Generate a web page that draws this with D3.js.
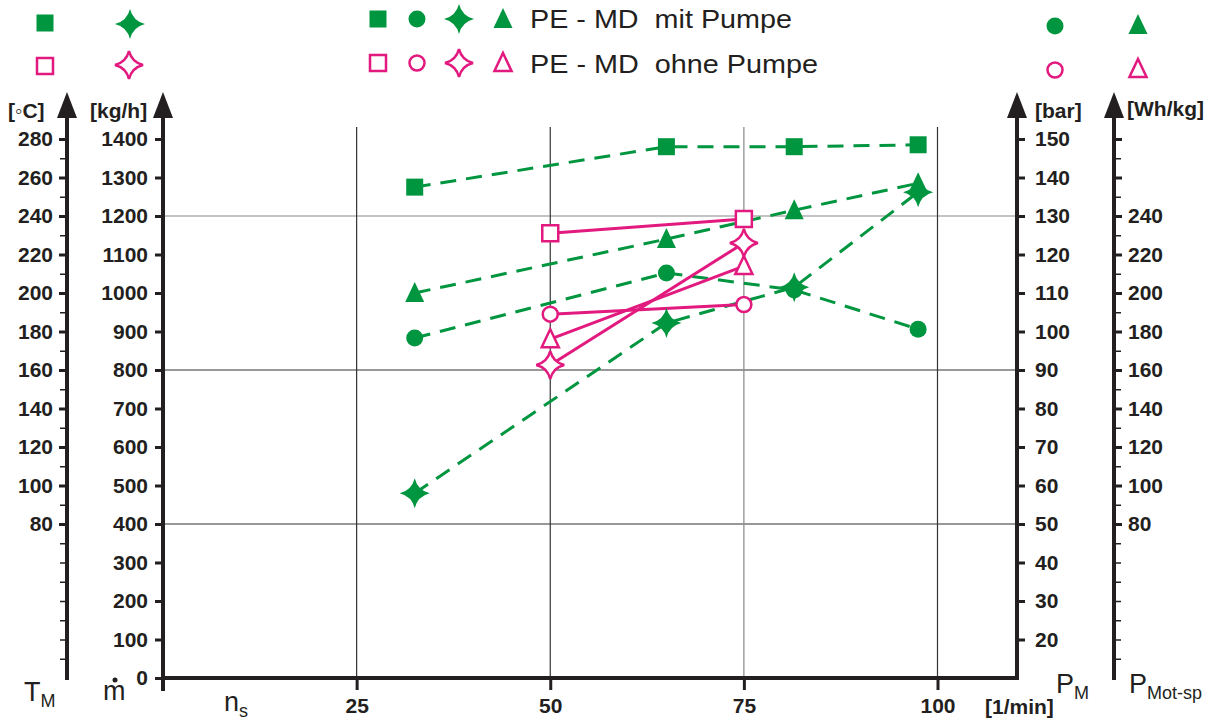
<!DOCTYPE html>
<html>
<head>
<meta charset="utf-8">
<script src="https://cdn.jsdelivr.net/npm/d3@7"></script>
<style>
  body { margin: 0; background: #fff; }
  svg { font-family: "Liberation Sans", Arial, sans-serif; }
  .tick text { font-weight: bold; font-size: 21px; fill: #231f20; }
</style>
</head>
<body>
<svg id="chart" width="1216" height="720"></svg>
<script>
// speed values (n_s, 1/min)
var nMit = [32.5, 65, 81.5, 97.5];
var nOhne = [50, 75];
// T_M [°C]
var tMit = [255, 276, 276, 277];
var tOhne = [231, 238.5];
// mass flow [kg/h]
var mMit = [480, 922, 1015, 1262];
var mOhne = [813, 1130];
// pressure P_M [bar]
var pMit = [98.3, 115.2, 110.8, 100.6];
var pOhne = [104.5, 107];
// specific motor power [Wh/kg]
var wMit = [200, 228, 243, 257];
var wOhne = [176, 214];

var xTicks = [25, 50, 75, 100];
var gridM = [400, 800, 1200];

var green = '#00953f', pink = '#e2197e', ink = '#231f20';

var svg = d3.select('#chart');

// Scales
var x = d3.scaleLinear().domain([0, 100]).range([163, 937.5]);
var yM = d3.scaleLinear().domain([0, 1400]).range([678, 139]);
var yT = d3.scaleLinear().domain([0, 280]).range([678, 139]);
var yP = d3.scaleLinear().domain([10, 150]).range([678, 139]);
var yW = yT;

// Grid lines
svg.append('g').selectAll('line')
  .data(gridM).enter().append('line')
  .attr('x1', 163).attr('x2', 1017)
  .attr('y1', function(d) { return yM(d); }).attr('y2', function(d) { return yM(d); })
  .attr('stroke', function(d, i) { return i == 2 ? '#888' : '#333'; })
  .attr('stroke-width', 1.2);
svg.append('g').selectAll('line')
  .data(xTicks).enter().append('line')
  .attr('x1', function(d) { return x(d); }).attr('x2', function(d) { return x(d); })
  .attr('y1', 127).attr('y2', 678)
  .attr('stroke', function(d, i) { return i == 2 ? '#888' : '#333'; })
  .attr('stroke-width', 1.2);

// star symbol (4 points)
function starPath(r) {
  var k = r * 0.2;
  return 'M0,' + (-r) + 'Q' + k + ',' + (-k) + ' ' + r + ',0' +
    'Q' + k + ',' + k + ' 0,' + r +
    'Q' + (-k) + ',' + k + ' ' + (-r) + ',0' +
    'Q' + (-k) + ',' + (-k) + ' 0,' + (-r) + 'Z';
}
function markerPath(type, open) {
  if (type == 'square') { var s = open ? 8 : 8.5; return 'M' + (-s) + ',' + (-s) + 'H' + s + 'V' + s + 'H' + (-s) + 'Z'; }
  if (type == 'circle') { var r = open ? 7.5 : 8.5; return d3.arc()({innerRadius: 0, outerRadius: r, startAngle: 0, endAngle: 2 * Math.PI}); }
  if (type == 'triangle') { var h = open ? 9 : 10; return 'M0,' + (-h - 1) + 'L' + (h * 0.95) + ',' + (h - 1) + 'L' + (-h * 0.95) + ',' + (h - 1) + 'Z'; }
  return starPath(open ? 14 : 15);
}
function drawMarker(g, type, open, cx, cy) {
  g.append('path')
    .attr('d', markerPath(type, open))
    .attr('transform', 'translate(' + cx + ',' + cy + ')')
    .attr('fill', open ? '#fff' : green)
    .attr('stroke', open ? pink : 'none')
    .attr('stroke-width', open ? 2.5 : 0);
}

// Series
var series = [
  {n: nMit, v: tMit, y: yT, type: 'square', open: false},
  {n: nMit, v: wMit, y: yW, type: 'triangle', open: false},
  {n: nMit, v: pMit, y: yP, type: 'circle', open: false},
  {n: nMit, v: mMit, y: yM, type: 'star', open: false},
  {n: nOhne, v: tOhne, y: yT, type: 'square', open: true},
  {n: nOhne, v: wOhne, y: yW, type: 'triangle', open: true},
  {n: nOhne, v: pOhne, y: yP, type: 'circle', open: true},
  {n: nOhne, v: mOhne, y: yM, type: 'star', open: true}
];
var lineG = svg.append('g');
var markG = svg.append('g');
series.forEach(function(s) {
  var pts = s.n.map(function(n, i) { return [x(n), s.y(s.v[i])]; });
  lineG.append('path')
    .attr('d', d3.line()(pts))
    .attr('fill', 'none')
    .attr('stroke', s.open ? pink : green)
    .attr('stroke-width', 3)
    .attr('stroke-dasharray', s.open ? null : '16,10');
});
series.forEach(function(s) {
  s.n.forEach(function(n, i) { drawMarker(markG, s.type, s.open, x(n), s.y(s.v[i])); });
});

// Axes
function styleAxis(g) {
  g.select('.domain').remove();
  g.selectAll('.tick line').attr('stroke', ink).attr('stroke-width', 3);
}
function minorAxis(g) {
  g.select('.domain').remove();
  g.selectAll('.tick line').attr('stroke', ink).attr('stroke-width', 1.5);
}
function vLine(xp, y2) {
  svg.append('line').attr('x1', xp).attr('x2', xp).attr('y1', 110).attr('y2', y2)
    .attr('stroke', ink).attr('stroke-width', 4);
  svg.append('path').attr('d', 'M' + xp + ',92L' + (xp + 10) + ',118L' + (xp - 10) + ',118Z').attr('fill', ink);
}

// T_M
svg.append('g').attr('transform', 'translate(67,0)')
  .call(d3.axisLeft(yT).tickValues(d3.range(10, 281, 10)).tickSize(7).tickFormat(''))
  .call(minorAxis);
svg.append('g').attr('transform', 'translate(67,0)')
  .call(d3.axisLeft(yT).tickValues(d3.range(80, 281, 20)).tickSize(8).tickPadding(6).tickFormat(d3.format('d')))
  .call(styleAxis);
vLine(67, 680);

// m-dot
svg.append('g').attr('transform', 'translate(163,0)')
  .call(d3.axisLeft(yM).tickValues(d3.range(0, 1401, 100)).tickSize(8).tickPadding(7).tickFormat(d3.format('d')))
  .call(styleAxis);
vLine(163, 691);

// P_M
svg.append('g').attr('transform', 'translate(1017,0)')
  .call(d3.axisRight(yP).tickValues(d3.range(20, 151, 10)).tickSize(8).tickPadding(10).tickFormat(d3.format('d')))
  .call(styleAxis);
vLine(1017, 680);

// P_Mot-sp
svg.append('g').attr('transform', 'translate(1114,0)')
  .call(d3.axisRight(yW).tickValues(d3.range(10, 281, 10)).tickSize(7).tickFormat(''))
  .call(minorAxis);
svg.append('g').attr('transform', 'translate(1114,0)')
  .call(d3.axisRight(yW).tickValues(d3.range(80, 281, 20)).tickSize(8).tickPadding(6)
    .tickFormat(function(d) { return d <= 240 ? d : ''; }))
  .call(styleAxis);
vLine(1114, 680);

// x axis
svg.append('g').attr('transform', 'translate(0,678)')
  .call(d3.axisBottom(x).tickValues(xTicks).tickSize(12).tickPadding(8).tickFormat(d3.format('d')))
  .call(styleAxis);
svg.append('line').attr('x1', 161).attr('x2', 1019).attr('y1', 678).attr('y2', 678)
  .attr('stroke', ink).attr('stroke-width', 4);

// unit labels
var units = [['[\u25e6C]', 8, 118], ['[kg/h]', 90, 118], ['[bar]', 1035, 118], ['[Wh/kg]', 1127, 116], ['[1/min]', 985, 714]];
svg.append('g').selectAll('text').data(units).enter().append('text')
  .attr('x', function(d) { return d[1]; }).attr('y', function(d) { return d[2]; })
  .attr('font-weight', 'bold').attr('font-size', 21).attr('fill', ink)
  .text(function(d) { return d[0]; });

// axis names
function subLabel(xp, yp, main, sub) {
  var t = svg.append('text').attr('x', xp).attr('y', yp).attr('font-size', 27).attr('fill', ink);
  t.append('tspan').text(main);
  t.append('tspan').attr('font-size', 18).attr('dy', 6).text(sub);
}
subLabel(24, 701, 'T', 'M');
subLabel(224, 711, 'n', 's');
subLabel(1056, 693, 'P', 'M');
subLabel(1129, 693, 'P', 'Mot-sp');
svg.append('text').attr('x', 103).attr('y', 700).attr('font-size', 27).attr('fill', ink).text('m');
svg.append('circle').attr('cx', 115).attr('cy', 680).attr('r', 2.5).attr('fill', ink);

// Legend
var legG = svg.append('g');
['square', 'circle', 'star', 'triangle'].forEach(function(t, i) {
  var lx = [378, 417, 459, 503][i];
  drawMarker(legG, t, false, lx, 19);
  drawMarker(legG, t, true, lx, 63);
});
legG.append('text').attr('x', 530).attr('y', 28).attr('font-size', 26).attr('fill', ink)
  .attr('xml:space', 'preserve').attr('textLength', 262).attr('lengthAdjust', 'spacingAndGlyphs')
  .text('PE - MD  mit Pumpe');
legG.append('text').attr('x', 530).attr('y', 73).attr('font-size', 26).attr('fill', ink)
  .attr('xml:space', 'preserve').attr('textLength', 288).attr('lengthAdjust', 'spacingAndGlyphs')
  .text('PE - MD  ohne Pumpe');
drawMarker(legG, 'square', false, 45, 23);
drawMarker(legG, 'star', false, 130, 24);
drawMarker(legG, 'square', true, 45, 66);
drawMarker(legG, 'star', true, 129, 65);
drawMarker(legG, 'circle', false, 1055, 26);
drawMarker(legG, 'triangle', false, 1138, 25);
drawMarker(legG, 'circle', true, 1055, 70);
drawMarker(legG, 'triangle', true, 1138, 69);
</script>
</body>
</html>
